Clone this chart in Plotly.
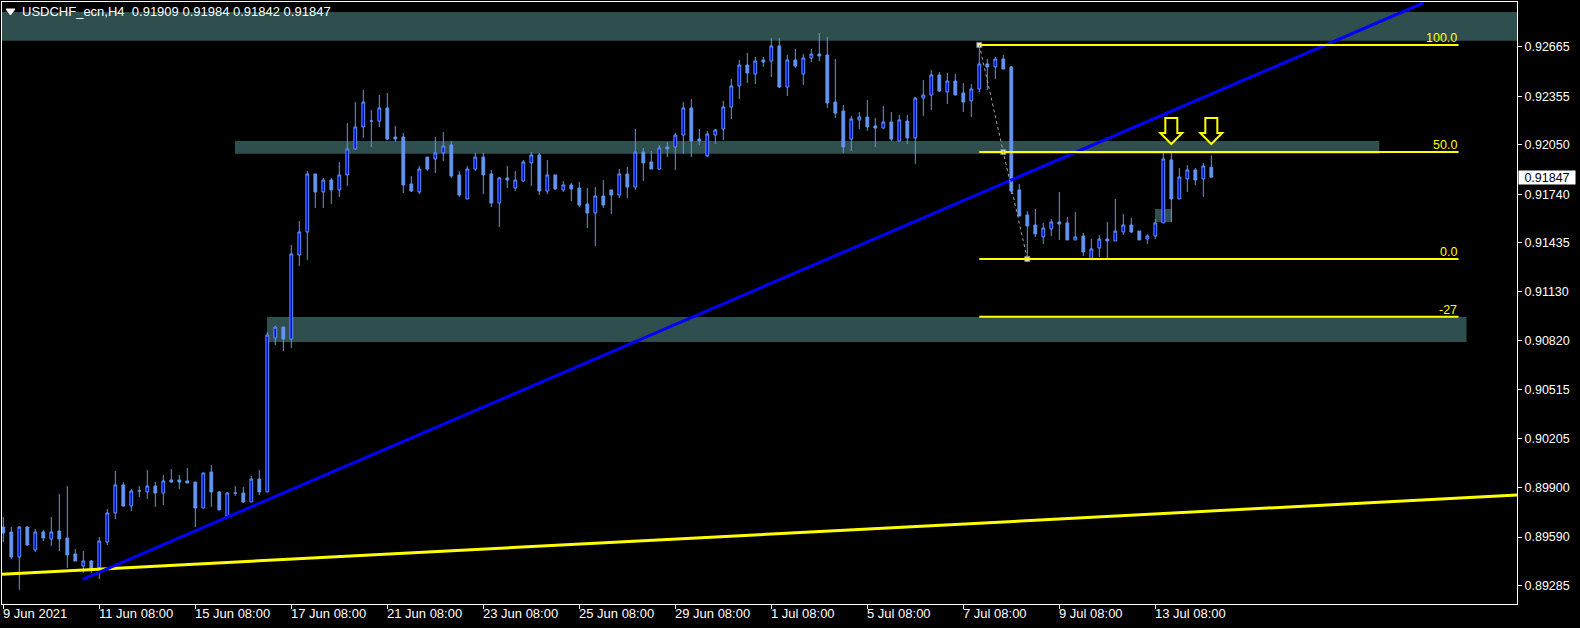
import plotly.graph_objects as go

# ---------------- data (H4 bars, USDCHF) ----------------
OPEN = [0.89653, 0.89622, 0.89465, 0.89653, 0.89509, 0.89622, 0.89578, 0.89628, 0.89584, 0.89484,
        0.89409, 0.89440, 0.89396, 0.89559, 0.89741, 0.89917, 0.89785, 0.89879, 0.89873, 0.89910,
        0.89866, 0.89948, 0.89948, 0.89942, 0.89935, 0.89772, 0.89998, 0.89873, 0.89722, 0.89866,
        0.89866, 0.89810, 0.89954, 0.89873, 0.90838, 0.90907, 0.90832, 0.91359, 0.91503, 0.91867,
        0.91754, 0.91829, 0.91767, 0.91861, 0.92024, 0.92162, 0.92199, 0.92199, 0.92281, 0.92099,
        0.92099, 0.91804, 0.91754, 0.91973, 0.91961, 0.91999, 0.92049, 0.91861, 0.91710, 0.91898,
        0.91973, 0.91867, 0.91685, 0.91842, 0.91779, 0.91823, 0.91936, 0.91986, 0.91760, 0.91861,
        0.91767, 0.91798, 0.91779, 0.91679, 0.91622, 0.91729, 0.91767, 0.91735, 0.91867, 0.91785,
        0.92005, 0.91942, 0.91898, 0.92036, 0.92036, 0.92111, 0.92281, 0.92086, 0.91980, 0.92111,
        0.92149, 0.92287, 0.92419, 0.92550, 0.92494, 0.92582, 0.92575, 0.92670, 0.92412, 0.92582,
        0.92494, 0.92594, 0.92619, 0.92613, 0.92318, 0.92262, 0.92086, 0.92206, 0.92224, 0.92168,
        0.92155, 0.92193, 0.92074, 0.92199, 0.92093, 0.92343, 0.92362, 0.92488, 0.92381, 0.92450,
        0.92375, 0.92325, 0.92400, 0.92557, 0.92538, 0.92588, 0.92538, 0.91767, 0.91610, 0.91547,
        0.91472, 0.91522, 0.91566, 0.91560, 0.91453, 0.91478, 0.91334, 0.91403, 0.91459, 0.91447,
        0.91503, 0.91547, 0.91509, 0.91459, 0.91478, 0.91560, 0.91955, 0.91710, 0.91836, 0.91892,
        0.91836, 0.91909]
HIGH = [0.89716, 0.89653, 0.89659, 0.89659, 0.89641, 0.89635, 0.89716, 0.89860, 0.89910, 0.89515,
        0.89502, 0.89446, 0.89590, 0.89766, 0.90004, 0.89935, 0.89891, 0.89910, 0.90011, 0.89935,
        0.89979, 0.90017, 0.89979, 0.90023, 0.89935, 0.89992, 0.90042, 0.89879, 0.89873, 0.89910,
        0.89904, 0.89973, 0.90011, 0.90876, 0.90914, 0.90907, 0.91422, 0.91572, 0.91886, 0.91867,
        0.91842, 0.91842, 0.91942, 0.92187, 0.92318, 0.92394, 0.92268, 0.92362, 0.92375, 0.92168,
        0.92124, 0.91854, 0.91917, 0.91973, 0.92099, 0.92130, 0.92074, 0.91886, 0.91917, 0.91999,
        0.91999, 0.91892, 0.91848, 0.91917, 0.91886, 0.91955, 0.92005, 0.91999, 0.91955, 0.91861,
        0.91823, 0.91810, 0.91817, 0.91779, 0.91785, 0.91829, 0.91767, 0.91898, 0.91911, 0.92149,
        0.92030, 0.92011, 0.92049, 0.92068, 0.92124, 0.92318, 0.92337, 0.92149, 0.92137, 0.92149,
        0.92325, 0.92463, 0.92582, 0.92626, 0.92601, 0.92601, 0.92720, 0.92720, 0.92613, 0.92651,
        0.92619, 0.92651, 0.92751, 0.92726, 0.92588, 0.92300, 0.92231, 0.92256, 0.92331, 0.92218,
        0.92293, 0.92256, 0.92237, 0.92237, 0.92350, 0.92456, 0.92519, 0.92506, 0.92500, 0.92494,
        0.92437, 0.92431, 0.92676, 0.92588, 0.92601, 0.92613, 0.92544, 0.91804, 0.91635, 0.91647,
        0.91560, 0.91585, 0.91754, 0.91597, 0.91629, 0.91497, 0.91459, 0.91484, 0.91566, 0.91710,
        0.91616, 0.91591, 0.91509, 0.91491, 0.91585, 0.91999, 0.91999, 0.91904, 0.91923, 0.91904,
        0.91936, 0.91984]
LOW = [0.89559, 0.89453, 0.89259, 0.89534, 0.89496, 0.89565, 0.89534, 0.89502, 0.89396, 0.89440,
       0.89365, 0.89365, 0.89327, 0.89540, 0.89703, 0.89779, 0.89754, 0.89841, 0.89829, 0.89779,
       0.89791, 0.89929, 0.89891, 0.89929, 0.89653, 0.89772, 0.89779, 0.89760, 0.89716, 0.89848,
       0.89804, 0.89810, 0.89854, 0.89873, 0.90794, 0.90757, 0.90776, 0.91290, 0.91328, 0.91654,
       0.91654, 0.91679, 0.91723, 0.91792, 0.92017, 0.92093, 0.92036, 0.92162, 0.92080, 0.92068,
       0.91748, 0.91754, 0.91741, 0.91886, 0.91873, 0.91948, 0.91842, 0.91723, 0.91710, 0.91886,
       0.91741, 0.91660, 0.91534, 0.91779, 0.91760, 0.91817, 0.91792, 0.91735, 0.91741, 0.91767,
       0.91754, 0.91697, 0.91660, 0.91528, 0.91415, 0.91654, 0.91616, 0.91716, 0.91716, 0.91767,
       0.91823, 0.91898, 0.91892, 0.91973, 0.91892, 0.91992, 0.91973, 0.92049, 0.91973, 0.92055,
       0.92080, 0.92212, 0.92337, 0.92437, 0.92431, 0.92538, 0.92475, 0.92406, 0.92356, 0.92532,
       0.92425, 0.92569, 0.92575, 0.92281, 0.92218, 0.91999, 0.92011, 0.92149, 0.92137, 0.92036,
       0.92149, 0.92074, 0.92074, 0.92055, 0.91930, 0.92231, 0.92268, 0.92381, 0.92306, 0.92362,
       0.92256, 0.92224, 0.92381, 0.92394, 0.92463, 0.92525, 0.91741, 0.91603, 0.91334, 0.91472,
       0.91428, 0.91478, 0.91453, 0.91453, 0.91453, 0.91353, 0.91334, 0.91346, 0.91328, 0.91447,
       0.91484, 0.91497, 0.91453, 0.91428, 0.91459, 0.91560, 0.91566, 0.91710, 0.91754, 0.91798,
       0.91723, 0.91842]
CLOSE = [0.89616, 0.89465, 0.89653, 0.89540, 0.89622, 0.89584, 0.89622, 0.89578, 0.89478, 0.89440,
         0.89440, 0.89390, 0.89565, 0.89741, 0.89917, 0.89785, 0.89879, 0.89879, 0.89910, 0.89866,
         0.89942, 0.89935, 0.89935, 0.89929, 0.89772, 0.89992, 0.89873, 0.89760, 0.89866, 0.89866,
         0.89810, 0.89954, 0.89873, 0.90857, 0.90907, 0.90832, 0.91365, 0.91503, 0.91867, 0.91754,
         0.91829, 0.91767, 0.91861, 0.92024, 0.92162, 0.92318, 0.92199, 0.92281, 0.92086, 0.92086,
         0.91798, 0.91760, 0.91898, 0.91898, 0.91999, 0.92042, 0.91854, 0.91735, 0.91898, 0.91973,
         0.91861, 0.91685, 0.91842, 0.91829, 0.91829, 0.91942, 0.91986, 0.91760, 0.91861, 0.91773,
         0.91798, 0.91773, 0.91672, 0.91622, 0.91729, 0.91672, 0.91735, 0.91867, 0.91785, 0.92005,
         0.91936, 0.91898, 0.92030, 0.92024, 0.92111, 0.92281, 0.92074, 0.92074, 0.92118, 0.92143,
         0.92287, 0.92419, 0.92550, 0.92500, 0.92575, 0.92569, 0.92670, 0.92412, 0.92582, 0.92544,
         0.92594, 0.92619, 0.92607, 0.92312, 0.92249, 0.92036, 0.92212, 0.92224, 0.92162, 0.92155,
         0.92193, 0.92086, 0.92206, 0.92093, 0.92343, 0.92362, 0.92488, 0.92387, 0.92450, 0.92362,
         0.92318, 0.92400, 0.92557, 0.92538, 0.92588, 0.92525, 0.91760, 0.91603, 0.91541, 0.91491,
         0.91528, 0.91566, 0.91553, 0.91453, 0.91472, 0.91378, 0.91397, 0.91459, 0.91447, 0.91509,
         0.91547, 0.91503, 0.91453, 0.91478, 0.91560, 0.91961, 0.91710, 0.91848, 0.91892, 0.91829,
         0.91917, 0.91847]

TICK_BARS = [0, 12, 24, 36, 48, 60, 72, 84, 96, 108, 120, 132, 144]
TICK_LABELS = ["9 Jun 2021", "11 Jun 08:00", "15 Jun 08:00", "17 Jun 08:00", "21 Jun 08:00",
               "23 Jun 08:00", "25 Jun 08:00", "29 Jun 08:00", "1 Jul 08:00", "5 Jul 08:00",
               "7 Jul 08:00", "9 Jul 08:00", "13 Jul 08:00"]
PRICE_TICKS = [0.92665, 0.92355, 0.92050, 0.91740, 0.91435, 0.91130,
               0.90820, 0.90515, 0.90205, 0.89900, 0.89590, 0.89285]

SYMBOL = "USDCHF_ecn,H4"

# drawing objects (bar index, price)
FIB_HIGH_BAR, FIB_LOW_BAR = 122, 128
FIB_LEVELS = [100, 50, 0, -27]
FIB_LEVEL_TEXT = ["100.0", "50.0", "0.0", "-27"]
FIB_END_BAR = 181.9
ZONES = [  # (x0 bar, x1 bar, top price, bottom price); None = full width
    (None, None, 0.928826, 0.927027),
    (28.96, 172.0, 0.920737, 0.919940),
    (32.96, 182.9, 0.909699, 0.908132),
    (143.96, 146.1, 0.916472, 0.915657),
]
BLUE_TREND = [(9.92, 0.893251), (177.46, 0.929391)]
YELLOW_TREND = [(-0.1625, 0.893564), (189.21, 0.898537)]
ARROW_BARS = [146, 151]
ARROW_TIP = 0.92055

# ---------------- layout geometry ----------------
W, H = 1580, 628
ML, MR, MT, MB = 2, 63, 2, 24
XR = [-0.1625, 189.21]
YR = [0.891702, 0.929454]
PX_X = (XR[1] - XR[0]) / (W - ML - MR)
PX_Y = (YR[1] - YR[0]) / (H - MT - MB)

FONT = "Liberation Sans"
SLATE = "#2F4F4F"
BULL = "#0000FF"
BEAR = "#6495ED"

bars = list(range(len(OPEN)))

fig = go.Figure()
fig.add_trace(go.Candlestick(
    x=bars, open=OPEN, high=HIGH, low=LOW, close=CLOSE,
    increasing=dict(line=dict(color=BEAR, width=1), fillcolor=BULL),
    decreasing=dict(line=dict(color=BEAR, width=1), fillcolor=BEAR),
    whiskerwidth=0, hoverinfo="skip", showlegend=False,
))

shapes = []
for x0, x1, top, bot in ZONES:
    if x0 is None:
        shapes.append(dict(type="rect", xref="paper", yref="y", x0=0, x1=1, y0=bot, y1=top,
                           fillcolor=SLATE, line=dict(width=0), layer="below"))
    else:
        shapes.append(dict(type="rect", xref="x", yref="y", x0=x0, x1=x1, y0=bot, y1=top,
                           fillcolor=SLATE, line=dict(width=0), layer="below"))

# trend lines
shapes.append(dict(type="line", xref="x", yref="y",
                   x0=YELLOW_TREND[0][0], y0=YELLOW_TREND[0][1],
                   x1=YELLOW_TREND[1][0], y1=YELLOW_TREND[1][1],
                   line=dict(color="#FFFF00", width=3)))
shapes.append(dict(type="line", xref="x", yref="y",
                   x0=BLUE_TREND[0][0], y0=BLUE_TREND[0][1],
                   x1=BLUE_TREND[1][0], y1=BLUE_TREND[1][1],
                   line=dict(color="#0000FF", width=3)))

# fibonacci
fib_hi = HIGH[FIB_HIGH_BAR]
fib_lo = LOW[FIB_LOW_BAR]
annotations = []
for lvl, txt in zip(FIB_LEVELS, FIB_LEVEL_TEXT):
    p = fib_lo + (fib_hi - fib_lo) * lvl / 100.0
    shapes.append(dict(type="line", xref="x", yref="y", x0=FIB_HIGH_BAR, x1=FIB_END_BAR,
                       y0=p, y1=p, line=dict(color="#FFFF00", width=2)))
    annotations.append(dict(x=FIB_END_BAR, y=p, xref="x", yref="y", text=txt, showarrow=False,
                            xanchor="right", yanchor="bottom", yshift=-2,
                            font=dict(family=FONT, size=12.5, color="#FFFF00")))
shapes.append(dict(type="line", xref="x", yref="y", x0=FIB_HIGH_BAR, y0=fib_hi,
                   x1=FIB_LOW_BAR, y1=fib_lo, line=dict(color="#A0A0A0", width=1, dash="dot")))
fig.add_trace(go.Scatter(
    x=[FIB_HIGH_BAR, (FIB_HIGH_BAR + FIB_LOW_BAR) / 2, FIB_LOW_BAR],
    y=[fib_hi, (fib_hi + fib_lo) / 2, fib_lo], mode="markers",
    marker=dict(symbol="square", size=5, color="#E8E8E8", line=dict(color="#808080", width=1)),
    hoverinfo="skip", showlegend=False))

# down arrows (pixel geometry converted to data units)
arrow_px = [(-6, 26), (6, 26), (6, 11), (11, 11), (0, 0), (-11, 11), (-6, 11)]
for b in ARROW_BARS:
    pts = [(b + dx * PX_X, ARROW_TIP + dy * PX_Y) for dx, dy in arrow_px]
    path = "M " + " L ".join(f"{x:.4f},{y:.6f}" for x, y in pts) + " Z"
    shapes.append(dict(type="path", xref="x", yref="y", path=path,
                       fillcolor="black", line=dict(color="#FFFF00", width=2)))

# title triangle
shapes.append(dict(type="path", xref="paper", yref="paper",
                   path="M 0.00264,0.98837 L 0.00858,0.98837 L 0.00561,0.97841 Z",
                   fillcolor="white", line=dict(color="white", width=1)))

annotations.append(dict(xref="paper", yref="paper", x=0.0122, y=0.9834, xanchor="left",
                        yanchor="middle", showarrow=False,
                        text=f"{SYMBOL}\u00a0\u00a0{OPEN[-1]:.5f} {HIGH[-1]:.5f} {LOW[-1]:.5f} {CLOSE[-1]:.5f}",
                        font=dict(family=FONT, size=13, color="white")))

# x tick labels (left aligned at tick)
for b, lab in zip(TICK_BARS, TICK_LABELS):
    annotations.append(dict(x=b, xref="x", y=0, yref="paper", text=lab, showarrow=False,
                            xanchor="left", yanchor="top", xshift=-2, yshift=0,
                            font=dict(family=FONT, size=13, color="white")))

# current price box
annotations.append(dict(x=1, xref="paper", y=CLOSE[-1], yref="y", text=f"{CLOSE[-1]:.5f}",
                        showarrow=False, xanchor="left", yanchor="middle", xshift=1,
                        bgcolor="white", width=56, height=13, borderpad=0, align="center",
                        font=dict(family=FONT, size=12.5, color="black")))

fig.update_layout(
    width=W, height=H,
    paper_bgcolor="black", plot_bgcolor="black",
    margin=dict(l=ML, r=MR, t=MT, b=MB, pad=0),
    boxgap=0.5,
    showlegend=False,
    hovermode=False,
    shapes=shapes,
    annotations=annotations,
    xaxis=dict(range=XR, showgrid=False, zeroline=False, showline=True, linecolor="white",
               linewidth=1, mirror=True, ticks="outside", ticklen=4, tickcolor="white",
               tickvals=TICK_BARS, showticklabels=False, rangeslider=dict(visible=False),
               fixedrange=True),
    yaxis=dict(range=YR, side="right", showgrid=False, zeroline=False, showline=True,
               linecolor="white", linewidth=1, mirror=True, ticks="outside", ticklen=4,
               tickcolor="white", tickvals=PRICE_TICKS,
               ticktext=[f"{v:.5f}" for v in PRICE_TICKS],
               tickfont=dict(family=FONT, size=12.5, color="white"), fixedrange=True),
)

fig.write_html("out.html", config={"displayModeBar": False},
               post_script="document.body.style.margin='0';document.body.style.background='black';")
